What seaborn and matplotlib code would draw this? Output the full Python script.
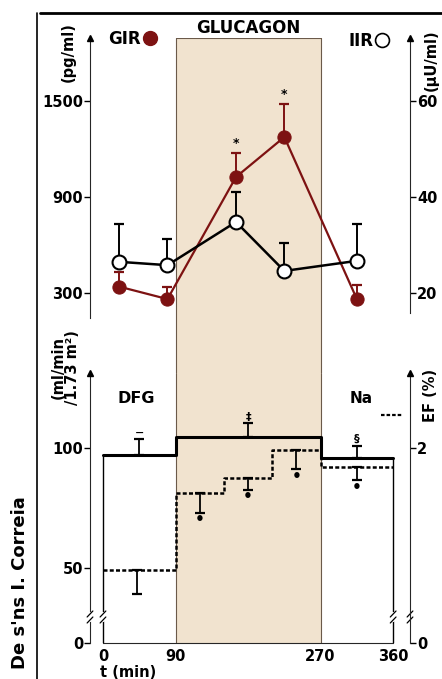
import numpy as np
import matplotlib
matplotlib.use("Agg")
import matplotlib.pyplot as plt
import seaborn as sns
from matplotlib.lines import Line2D

sns.set_style("white")
plt.rcParams['font.family'] = ['DejaVu Sans']
plt.rcParams['font.weight'] = 'bold'
plt.rcParams['axes.labelweight'] = 'bold'
for key in ('text.color', 'axes.labelcolor', 'xtick.color', 'ytick.color'):
    plt.rcParams[key] = 'black'

# top panel: GIR (pg/ml, left) and IIR (uU/ml, right)
sample_t = [20, 80, 165, 225, 315]
gir = [340, 262, 1025, 1275, 262]
gir_sd = [90, 75, 150, 205, 88]
gir_sig = ['', '', '*', '*', '']
iir = [26.5, 25.8, 34.8, 24.6, 26.7]
iir_sd = [7.9, 5.4, 6.2, 5.8, 7.7]

# bottom panel: DFG (solid steps) and EF Na (dashed steps)
dfg_edges = [0, 90, 270, 360]
dfg = [97, 104.5, 95.5]
dfg_err_t = [45, 180, 315]
dfg_sd = [6.5, 5.5, 5.3]
dfg_sig = ['\u2212', '\u2021', '\u00a7']
ef_edges = [0, 90, 150, 210, 270, 360]
ef = [0.99, 1.62, 1.75, 1.98, 1.84]
ef_err_t = [42, 120, 180, 240, 315]
ef_sd = [0.2, 0.16, 0.10, 0.16, 0.11]
ef_sig = ['', '\u2022', '\u2022', '\u2022', '\u2022']

glucagon = (90, 270)
x_ticks = [0, 90, 270, 360]

RED = '#7d1212'
SHADE = '#f1e3cf'
EDGE = '#6b5a4a'
TICK_FS = 10.5

W, H = 442, 679
fig = plt.figure(figsize=(W / 100, H / 100), dpi=100)
ax_top = fig.add_axes([90 / W, 1 - 373 / H, 320 / W, 335 / H])
ax_bot = fig.add_axes([90 / W, 1 - 643 / H, 320 / W, 270 / H])
xlim = (-16.1, 380.9)


# broken y scale for lower panel
def fwd(y):
    y = np.asarray(y, float)
    return np.where(y >= 30, y, 30 - (30 - y) * 0.36)


def inv(v):
    v = np.asarray(v, float)
    return np.where(v >= 30, v, 30 - (30 - v) / 0.36)


def arrow(ax, xa):
    ax.plot([xa], [1], marker='^', ms=4.5, color='k', transform=ax.transAxes, clip_on=False, zorder=6)


def brk(ax, xa, ya, trans):
    h = 3 / 270
    ax.plot([xa, xa], [ya - h, ya + h], color='white', lw=3, transform=trans, clip_on=False, zorder=5)
    for off in (-h, h):
        ax.plot([xa - 0.009, xa + 0.009], [ya + off - h, ya + off + h], color='k', lw=0.9,
                transform=trans, clip_on=False, zorder=6)


# ---------- top panel ----------
ax_top.set_xlim(xlim)
ax_top.set_ylim(-200, 1894)
ax_top.axvspan(*glucagon, color=SHADE, lw=0, zorder=0)
for xv in glucagon:
    ax_top.axvline(xv, color=EDGE, lw=0.8, zorder=0.5)
ax_top.plot(glucagon, [1, 1], color=EDGE, lw=0.8, transform=ax_top.get_xaxis_transform())

ax_top.errorbar(sample_t, gir, yerr=[np.zeros(len(gir)), gir_sd], fmt='none', ecolor=RED,
                elinewidth=1.4, capsize=3.5, capthick=1.6, zorder=2)
sns.lineplot(x=sample_t, y=gir, ax=ax_top, color=RED, lw=1.6, marker='o', ms=9.5,
             markeredgecolor=RED, markerfacecolor=RED, sort=False, zorder=3)
for t, v, s, m in zip(sample_t, gir, gir_sd, gir_sig):
    if m:
        ax_top.annotate(m, (t, v + s), xytext=(0, 2), textcoords='offset points',
                        ha='center', va='bottom', fontsize=9)

ax_top.spines[['top', 'right', 'bottom']].set_visible(False)
ax_top.spines['left'].set_bounds(144, 1894)
ax_top.set_yticks([300, 900, 1500])
ax_top.set_xticks([])
ax_top.tick_params(axis='y', direction='out', length=4, width=1, labelsize=TICK_FS, pad=1, left=True)
arrow(ax_top, 0)
ax_top.set_ylabel('(pg/ml)', fontsize=10.5)
ax_top.yaxis.set_label_coords(-0.043, 0.958)

ax_iir = ax_top.twinx()
ax_iir.set_ylim(20 + (-200 - 300) / 30, 20 + (1894 - 300) / 30)
ax_iir.errorbar(sample_t, iir, yerr=[np.zeros(len(iir)), iir_sd], fmt='none', ecolor='k',
                elinewidth=1.4, capsize=3.5, capthick=1.6, zorder=2)
sns.lineplot(x=sample_t, y=iir, ax=ax_iir, color='k', lw=1.8, marker='o', ms=10,
             markeredgecolor='k', markerfacecolor='white', markeredgewidth=1.5, sort=False, zorder=3)
ax_iir.spines[['top', 'left', 'bottom']].set_visible(False)
ax_iir.spines['right'].set_bounds(15.8, 73.13)
ax_iir.set_yticks([20, 40, 60])
ax_iir.tick_params(axis='y', direction='out', length=4, width=1, labelsize=TICK_FS, pad=1, right=True)
arrow(ax_iir, 1)
ax_iir.set_ylabel('(\u00b5U/ml)', fontsize=10.5)
ax_iir.yaxis.set_label_coords(1.042, 0.934)

ax_top.text(180, 1.03, 'GLUCAGON', transform=ax_top.get_xaxis_transform(), ha='center',
            va='center', fontsize=12)

leg_kw = dict(frameon=False, markerfirst=False, handlelength=0.8, handletextpad=0.15,
              borderpad=0, borderaxespad=0, loc='center left', bbox_transform=fig.transFigure,
              prop={'weight': 'bold', 'size': 12})
h_gir = Line2D([], [], ls='none', marker='o', ms=10, color=RED)
h_iir = Line2D([], [], ls='none', marker='o', ms=10, markerfacecolor='white', markeredgecolor='k', markeredgewidth=1.2)
ax_top.legend([h_gir], ['GIR'], bbox_to_anchor=(108 / W, 1 - 39 / H), **leg_kw)
ax_iir.legend([h_iir], ['IIR'], bbox_to_anchor=(348 / W, 1 - 41 / H), **leg_kw)

# ---------- bottom panel ----------
ax_bot.set_yscale('function', functions=(fwd, inv))
ax_bot.set_xlim(xlim)
ax_bot.set_ylim(0, 130.8)
ax_bot.axvspan(*glucagon, color=SHADE, lw=0, zorder=0)
for xv in glucagon:
    ax_bot.axvline(xv, color=EDGE, lw=0.8, zorder=0.5)

ax_bot.step(dfg_edges, dfg + [dfg[-1]], where='post', color='k', lw=2.2, zorder=3)
ax_bot.vlines([dfg_edges[0], dfg_edges[-1]], 0, [dfg[0], dfg[-1]], color='k', lw=1, zorder=3)
ax_bot.errorbar(dfg_err_t, dfg, yerr=[np.zeros(len(dfg)), dfg_sd], fmt='none', ecolor='k',
                elinewidth=1.3, capsize=3.5, capthick=1.6, zorder=3)
for t, v, s, m in zip(dfg_err_t, dfg, dfg_sd, dfg_sig):
    ax_bot.annotate(m, (t, v + s), xytext=(0, 1), textcoords='offset points',
                    ha='center', va='bottom', fontsize=8)

ax_bot.spines[['top', 'right']].set_visible(False)
ax_bot.spines['left'].set_bounds(0, 130.8)
ax_bot.spines['bottom'].set_bounds(0, 360)
ax_bot.set_yticks([0, 50, 100])
ax_bot.yaxis.set_minor_locator(matplotlib.ticker.NullLocator())
ax_bot.set_xticks(x_ticks)
ax_bot.tick_params(axis='y', direction='out', length=4, width=1, labelsize=TICK_FS, pad=1, left=True)
ax_bot.tick_params(axis='x', length=0, labelsize=TICK_FS, pad=4)
arrow(ax_bot, 0)
ax_bot.set_ylabel('(ml/min\n/1.73 m\u00b2)', fontsize=10.5, linespacing=1.0)
ax_bot.yaxis.set_label_coords(-0.03, 1.02)
ax_bot.set_xlabel('t (min)', fontsize=10.5, ha='left')
ax_bot.xaxis.set_label_coords(0.03, -0.08)
ax_bot.text(41, 0.907, 'DFG', transform=ax_bot.get_xaxis_transform(), ha='center',
            va='center', fontsize=11.5)
ax_bot.text(320, 0.907, 'Na', transform=ax_bot.get_xaxis_transform(), ha='center',
            va='center', fontsize=11)

ax_ef = ax_bot.twinx()
ax_ef.set_yscale('function', functions=(lambda e: fwd(np.asarray(e) * 50), lambda v: inv(v) / 50))
ax_ef.set_ylim(0, 130.8 / 50)
ax_ef.step(ef_edges, ef + [ef[-1]], where='post', color='k', lw=1.8, ls=(0, (1.6, 0.9)), zorder=3)
ax_ef.errorbar(ef_err_t, ef, yerr=[ef_sd, np.zeros(len(ef))], fmt='none', ecolor='k',
               elinewidth=1.3, capsize=3.5, capthick=1.6, zorder=3)
for t, v, s, m in zip(ef_err_t, ef, ef_sd, ef_sig):
    if m:
        ax_ef.annotate(m, (t, v - s), xytext=(0, -5), textcoords='offset points',
                       ha='center', va='center', fontsize=11)
ax_ef.spines[['top', 'left', 'bottom']].set_visible(False)
ax_ef.spines['right'].set_bounds(0, 130.8 / 50)
ax_ef.set_yticks([0, 2])
ax_ef.yaxis.set_minor_locator(matplotlib.ticker.NullLocator())
ax_ef.tick_params(axis='y', direction='out', length=4, width=1, labelsize=TICK_FS, pad=1, right=True)
arrow(ax_ef, 1)
ax_ef.set_ylabel('EF (%)', fontsize=10.5)
ax_ef.yaxis.set_label_coords(1.042, 0.918)
h_ef = Line2D([], [], color='k', lw=1.6, ls=(0, (1.6, 0.9)))
ax_ef.legend([h_ef], [''], frameon=False, handlelength=1.6, handletextpad=0, borderpad=0,
             borderaxespad=0, loc='center left', bbox_to_anchor=(381 / W, 1 - 416 / H),
             bbox_transform=fig.transFigure)

# axis breaks
ya = (643 - 617) / 270
brk(ax_bot, 0, ya, ax_bot.transAxes)
brk(ax_bot, 1, ya, ax_bot.transAxes)
for t in (dfg_edges[0], dfg_edges[-1]):
    brk(ax_bot, (t - xlim[0]) / (xlim[1] - xlim[0]), ya, ax_bot.transAxes)

# page frame and credit
fig.add_artist(Line2D([40 / W, 1], [1 - 13 / H, 1 - 13 / H], color='k', lw=2))
fig.add_artist(Line2D([37 / W, 37 / W], [0, 1 - 13 / H], color='k', lw=1.2))
fig.text(20 / W, 1 - 583 / H, "De s'ns I. Correia", rotation=90, ha='center', va='center',
         fontsize=13)

fig.savefig('out.png', dpi=100)
